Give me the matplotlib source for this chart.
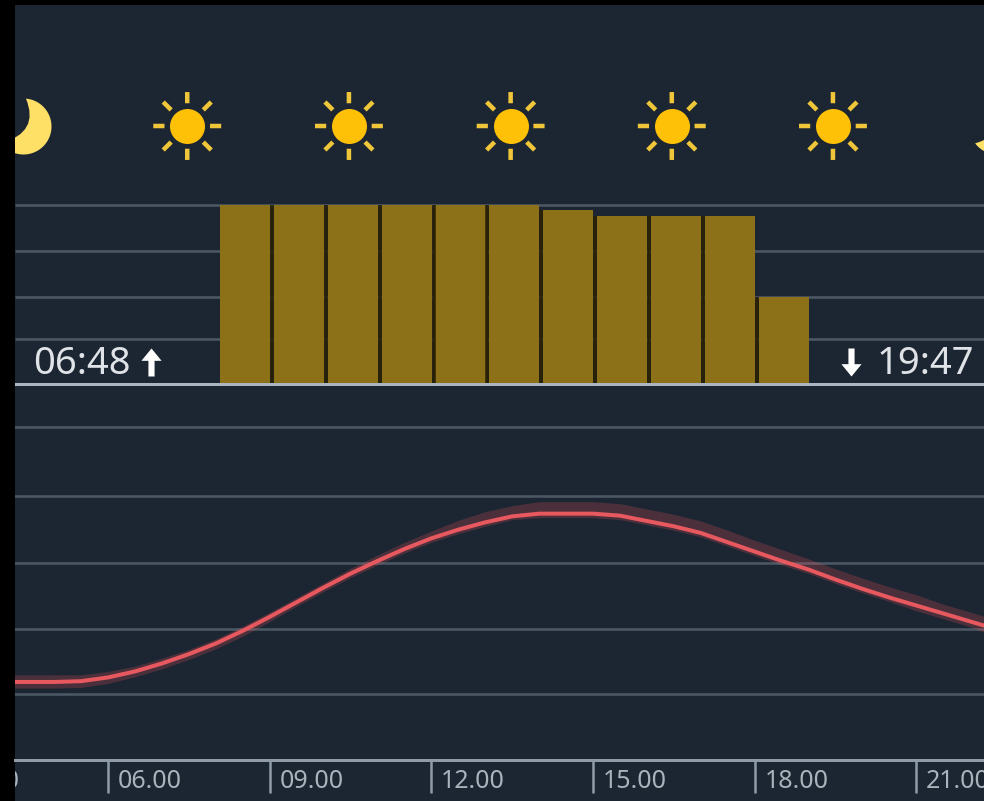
import numpy as np
from matplotlib import pyplot as plt
from matplotlib.path import Path
from matplotlib.transforms import Affine2D

W, H = 984, 801
BG = '#1b2632'
GRID = '#4b5864'
FONT = ['Noto Sans', 'DejaVu Sans']

# sunshine per hour
bar_hours = [8.54, 9.54, 10.54, 11.54, 12.54, 13.54, 14.54, 15.54, 16.54, 17.54, 18.54]
sun_pct = [100, 100, 100, 100, 100, 100, 97, 94, 94, 94, 48.5]
sun_levels = [0, 25, 48.6, 74.3, 100]

# weather icons
sun_icon_hours = [7.47, 10.47, 13.47, 16.46, 19.45]
moon_icon_hours = [4.42, 22.5]

sunrise_hour = 6.8
sunset_hour = 19.78
sunrise_label = '06:48'
sunset_label = '19:47'

# temperature line
temp_hours = [4.25, 4.5, 5, 5.5, 6, 6.5, 7, 7.5, 8, 8.5, 9, 9.5, 10, 10.5, 11, 11.5, 12, 12.5, 13,
              13.5, 14, 14.5, 15, 15.5, 16, 16.5, 17, 17.5, 18, 18.5, 19, 19.5, 20, 20.5, 21, 21.5, 22, 22.25]
temp = [5.86, 5.86, 5.86, 5.92, 6.2, 6.65, 7.25, 7.95, 8.75, 9.7, 10.75, 11.85, 12.95, 14.0, 14.95, 15.85, 16.65, 17.3, 17.85,
        18.3, 18.5, 18.5, 18.5, 18.35, 17.95, 17.55, 17.05, 16.35, 15.65, 14.95, 14.3, 13.55, 12.85, 12.2, 11.6, 11.0, 10.4, 10.1]
temp_high = [6.4, 6.4, 6.4, 6.4, 6.65, 7.05, 7.65, 8.3, 9.1, 10.05, 11.1, 12.2, 13.3, 14.4, 15.4, 16.35, 17.2, 18.0, 18.65,
             19.1, 19.4, 19.4, 19.4, 19.25, 18.85, 18.45, 17.95, 17.25, 16.5, 15.8, 15.1, 14.35, 13.65, 13.0, 12.4, 11.7, 11.1, 10.8]
temp_low = [5.4, 5.4, 5.4, 5.45, 5.75, 6.25, 6.85, 7.55, 8.35, 9.3, 10.4, 11.55, 12.65, 13.7, 14.65, 15.55, 16.35, 17.0, 17.55,
            18.05, 18.2, 18.2, 18.2, 18.05, 17.65, 17.25, 16.75, 16.05, 15.35, 14.65, 14.0, 13.25, 12.55, 11.9, 11.2, 10.6, 10.0, 9.6]
temp_levels = [4.92, 9.87, 14.83, 19.85, 25]

tick_hours = [3, 6, 9, 12, 15, 18, 21]
tick_labels = ['03.00', '06.00', '09.00', '12.00', '15.00', '18.00', '21.00']

PX_PER_HOUR = 53.9
x_left = 6 + (15 - 108) / PX_PER_HOUR
x_right = 6 + (984 - 108) / PX_PER_HOUR


def px(v):
    # pixels to points
    return v * 72 / 100


def place(fig, top, bottom):
    return fig.add_axes([15 / W, 1 - bottom / H, (W - 15) / W, (bottom - top) / H], facecolor=BG)


def ray_marker():
    verts, codes = [], []
    for a in np.arange(8) * np.pi / 4:
        verts += [(0.65 * np.cos(a), 0.65 * np.sin(a)), (0.97 * np.cos(a), 0.97 * np.sin(a))]
        codes += [Path.MOVETO, Path.LINETO]
    # keeps the marker scale at radius 1
    verts += [(1, 0), (1, 0)]
    codes += [Path.MOVETO, Path.LINETO]
    return Path(verts, codes)


def moon_marker():
    # outer arc clockwise from the top tip, then a curve back for the inner edge
    t = np.radians(np.linspace(85, -143, 50))
    verts = np.c_[np.cos(t), np.sin(t)].tolist()
    codes = [Path.MOVETO] + [Path.LINETO] * 49
    verts += [[0.59, -0.2], verts[0]]
    codes += [Path.CURVE3, Path.CURVE3]
    return Path(verts, codes)


def arrow_marker():
    return Path([(-0.11, -0.5), (-0.11, 0.06), (-0.36, 0.06), (0, 0.5), (0.36, 0.06), (0.11, 0.06), (0.11, -0.5), (-0.11, -0.5)], closed=True)


fig = plt.figure(figsize=(W / 100, H / 100), dpi=100, facecolor='black')

# top panel, icons + sunshine bars
ax_sun = place(fig, 5, 395)
ax_sun.set_ylim((384 - 395) / 1.79, (384 - 5) / 1.79)
ax_sun.axis('off')
ax_sun.add_patch(plt.Rectangle((0, 0), 1, 1, transform=ax_sun.transAxes, color=BG, zorder=0))
ax_sun.hlines(sun_levels[1:], x_left, x_right, color=GRID, lw=px(2.6), zorder=1)
ax_sun.bar(bar_hours, sun_pct, width=0.93, color='#8c7118', zorder=2)
for i in range(len(bar_hours) - 1):
    ax_sun.vlines(bar_hours[i] + 0.5, 0, min(sun_pct[i], sun_pct[i + 1]), color='#2a2208', lw=px(3.5), zorder=2)
ax_sun.axhline(sun_levels[0], color='#aab5c0', lw=px(3), zorder=3)

icon_y = (384 - 126) / 1.79
ax_sun.scatter(sun_icon_hours, [icon_y] * 5, s=px(35) ** 2, c='#ffc107', marker='o', lw=0, zorder=4)
ax_sun.scatter(sun_icon_hours, [icon_y] * 5, s=px(70) ** 2, marker=ray_marker(), facecolors='none', edgecolors='#efc53a', lw=px(4.5), zorder=4)
ax_sun.scatter(moon_icon_hours, [icon_y] * 2, s=px(56) ** 2, marker=moon_marker(), c='#ffe066', lw=0, zorder=4)

text_y = (384 - 364) / 1.79
arrow_y = (384 - 362) / 1.79
ax_sun.annotate(sunrise_label, (sunrise_hour, text_y), xytext=(px(-20), 0), textcoords='offset points', ha='right', va='center',
                fontsize=27.5, color='#dfe3e7', family=FONT, zorder=5)
ax_sun.annotate(sunset_label, (sunset_hour, text_y), xytext=(px(26), 0), textcoords='offset points', ha='left', va='center',
                fontsize=27.5, color='#dfe3e7', family=FONT, zorder=5)
ax_sun.scatter([sunrise_hour], [arrow_y], s=px(28) ** 2, marker=arrow_marker(), c='white', lw=0, zorder=5)
ax_sun.scatter([sunset_hour], [arrow_y], s=px(28) ** 2, marker=arrow_marker().transformed(Affine2D().scale(1, -1)), c='white', lw=0, zorder=5)
ax_sun.set_xlim(x_left, x_right)

# bottom panel, temperature
k = 0.0751
ax_temp = place(fig, 395, H)
ax_temp.set_ylim((760 - H) * k, (760 - 395) * k)
for s in ['top', 'left', 'right']:
    ax_temp.spines[s].set_visible(False)
ax_temp.spines['bottom'].set_position(('data', 0))
ax_temp.spines['bottom'].set_color('#8f9ca8')
ax_temp.spines['bottom'].set_linewidth(px(3))
ax_temp.set_yticks(temp_levels)
ax_temp.set_yticklabels([])
ax_temp.tick_params(axis='y', length=0)
ax_temp.grid(axis='y', color=GRID, lw=px(2.6))
ax_temp.set_axisbelow(True)
ax_temp.set_xticks(tick_hours)
ax_temp.set_xticklabels([])
ax_temp.tick_params(axis='x', direction='out', length=px(33), width=px(2.5), color='#8f9ca8')
for h, lab in zip(tick_hours, tick_labels):
    ax_temp.text(h + 0.18, -21 * k, lab, fontsize=18, color='#a9b3bc', family=FONT, ha='left', va='center', clip_on=True)

ax_temp.fill_between(temp_hours, temp_low, temp_high, color='#e8505b', alpha=0.24, lw=0, zorder=3)
ax_temp.plot(temp_hours, temp, color='#e8585f', lw=px(4), zorder=4)
# ticks widen the limits, so the range goes last
ax_temp.set_xlim(x_left, x_right)

fig.savefig('out.png', dpi=100, facecolor='black')
